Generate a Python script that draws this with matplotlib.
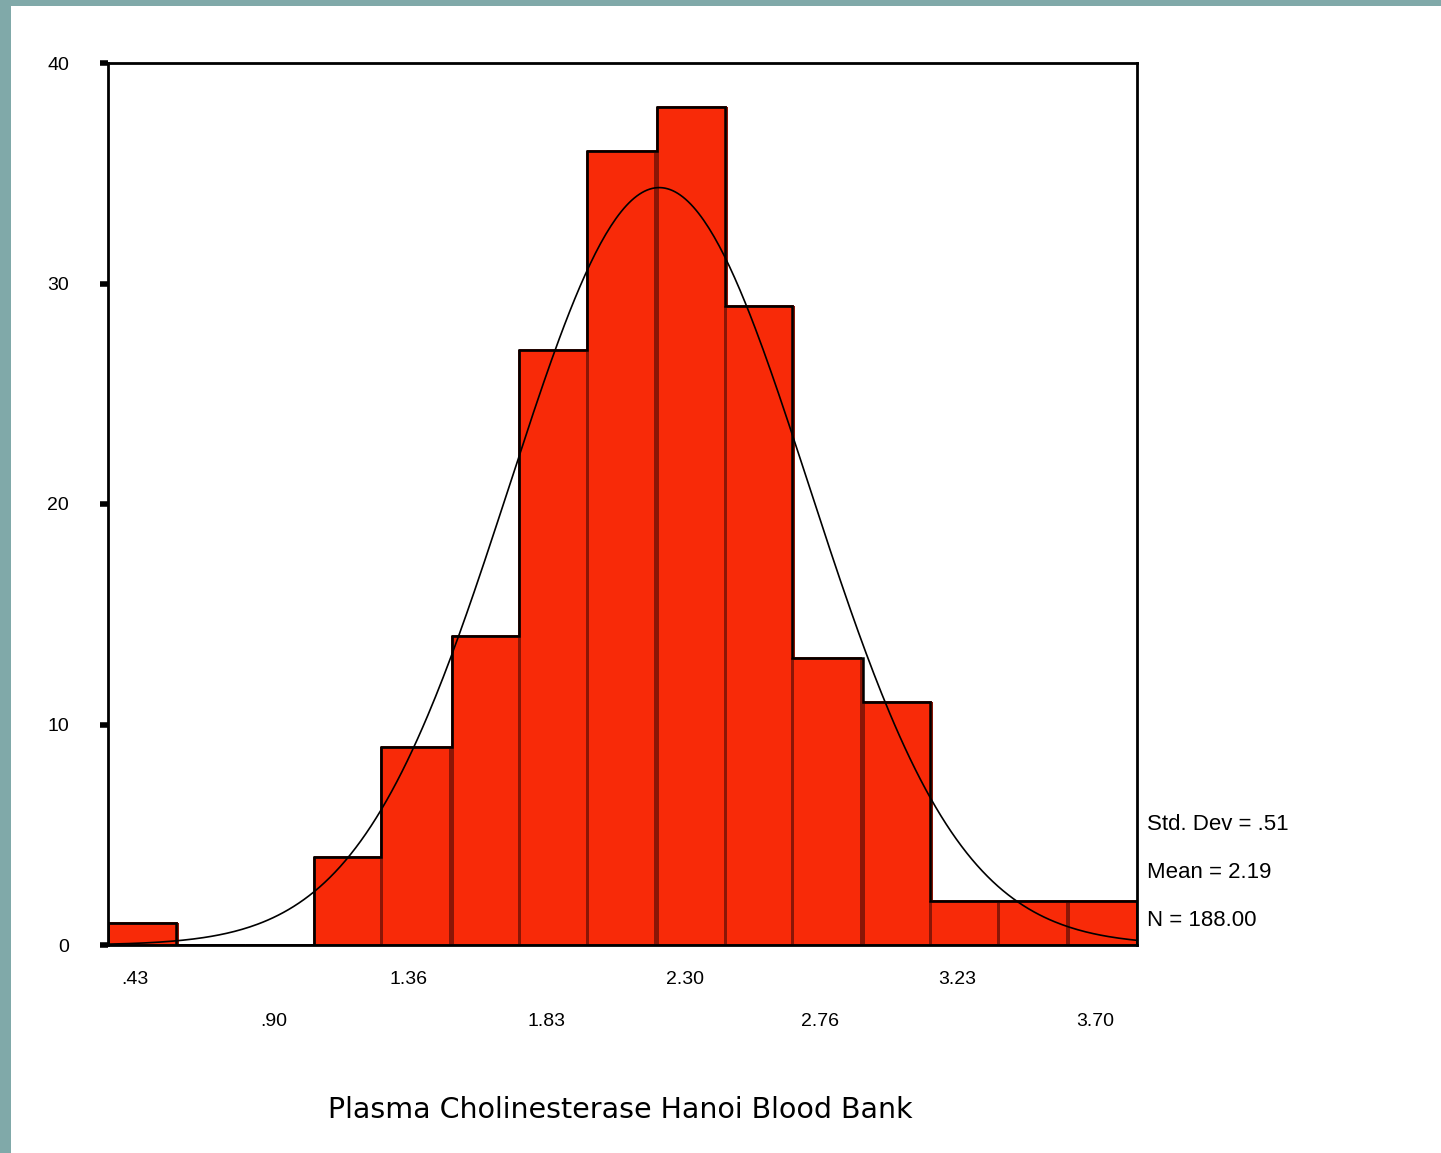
import numpy as np
import matplotlib
matplotlib.use("Agg")
import matplotlib.pyplot as plt
from matplotlib.patches import Rectangle
import matplotlib.transforms as mtransforms

# ---- data ----
bin_centers = [0.43, 0.66, 0.90, 1.13, 1.36, 1.60, 1.83, 2.06, 2.30, 2.53, 2.76, 3.00, 3.23, 3.46, 3.70]
counts = [1, 0, 0, 4, 9, 14, 27, 36, 38, 29, 13, 11, 2, 2, 2]
tick_labels_top = [".43", "1.36", "2.30", "3.23"]
tick_pos_top = [0.43, 1.36, 2.30, 3.23]
tick_labels_bot = [".90", "1.83", "2.76", "3.70"]
tick_pos_bot = [0.90, 1.83, 2.76, 3.70]
y_ticks = [0, 10, 20, 30, 40]
std_dev = 0.51
mean = 2.19
n_total = 188.00
x_title = "Plasma Cholinesterase Hanoi Blood Bank"

W, H = 1441, 1153
fig = plt.figure(figsize=(W / 100, H / 100), dpi=100)
fig.patch.set_facecolor("#80A9A9")
# white panel
fig.patches.append(Rectangle((11 / W, 0), 1, 1 - 6 / H, transform=fig.transFigure,
                             facecolor="white", edgecolor="none", zorder=-10))

ax = fig.add_axes([108 / W, 1 - 945 / H, (1137 - 108) / W, (945 - 63) / H])
ax.set_zorder(5)
ax.set_facecolor("white")

centers = np.array(bin_centers)
bw = (centers[-1] - centers[0]) / (len(centers) - 1)
edges = np.concatenate([centers - bw / 2, [centers[-1] + bw / 2]])

ax.bar(centers, counts, width=bw, color="#F82A08", edgecolor="#8A1606", linewidth=1.0,
       antialiased=False, zorder=2)
ax.stairs(counts, edges, color="black", linewidth=1.8, zorder=3)

xs = np.linspace(edges[0], edges[-1], 400)
ys = n_total * bw / (std_dev * np.sqrt(2 * np.pi)) * np.exp(-0.5 * ((xs - mean) / std_dev) ** 2)
ax.plot(xs, ys, color="black", linewidth=1.2, zorder=4)

ax.set_xlim(edges[0], edges[-1])
ax.set_ylim(0, 40)

for s in ax.spines.values():
    s.set_linewidth(2)
    s.set_color("black")

ax.set_yticks(y_ticks)
ax.set_yticklabels([str(v) for v in y_ticks], fontsize=14, family="Liberation Sans")
ax.tick_params(axis="y", length=6, width=4, pad=22, direction="out")
ax.set_xticks([])

shift = mtransforms.ScaledTranslation(-7 / 100, 0, fig.dpi_scale_trans)
font = dict(family="Liberation Sans", fontsize=14)
for p, lab in zip(tick_pos_top, tick_labels_top):
    ax.text(p, -1.2, lab, ha="center", va="top", transform=ax.transData + shift, **font)
for p, lab in zip(tick_pos_bot, tick_labels_bot):
    ax.text(p, -3.1, lab, ha="center", va="top", transform=ax.transData + shift, **font)

fig.text(620 / W, 1 - 1110 / H, x_title, ha="center", va="center",
         family="DejaVu Sans", fontsize=20.5)

stats = [f"Std. Dev = {std_dev:.2f}".replace("0.", "."),
         f"Mean = {mean:.2f}",
         f"N = {n_total:.2f}"]
for i, t in enumerate(stats):
    fig.text(1147 / W, 1 - (825 + 48 * i) / H, t, ha="left", va="center",
             family="Liberation Sans", fontsize=16)

fig.savefig("out.png", dpi=100, facecolor=fig.get_facecolor())
